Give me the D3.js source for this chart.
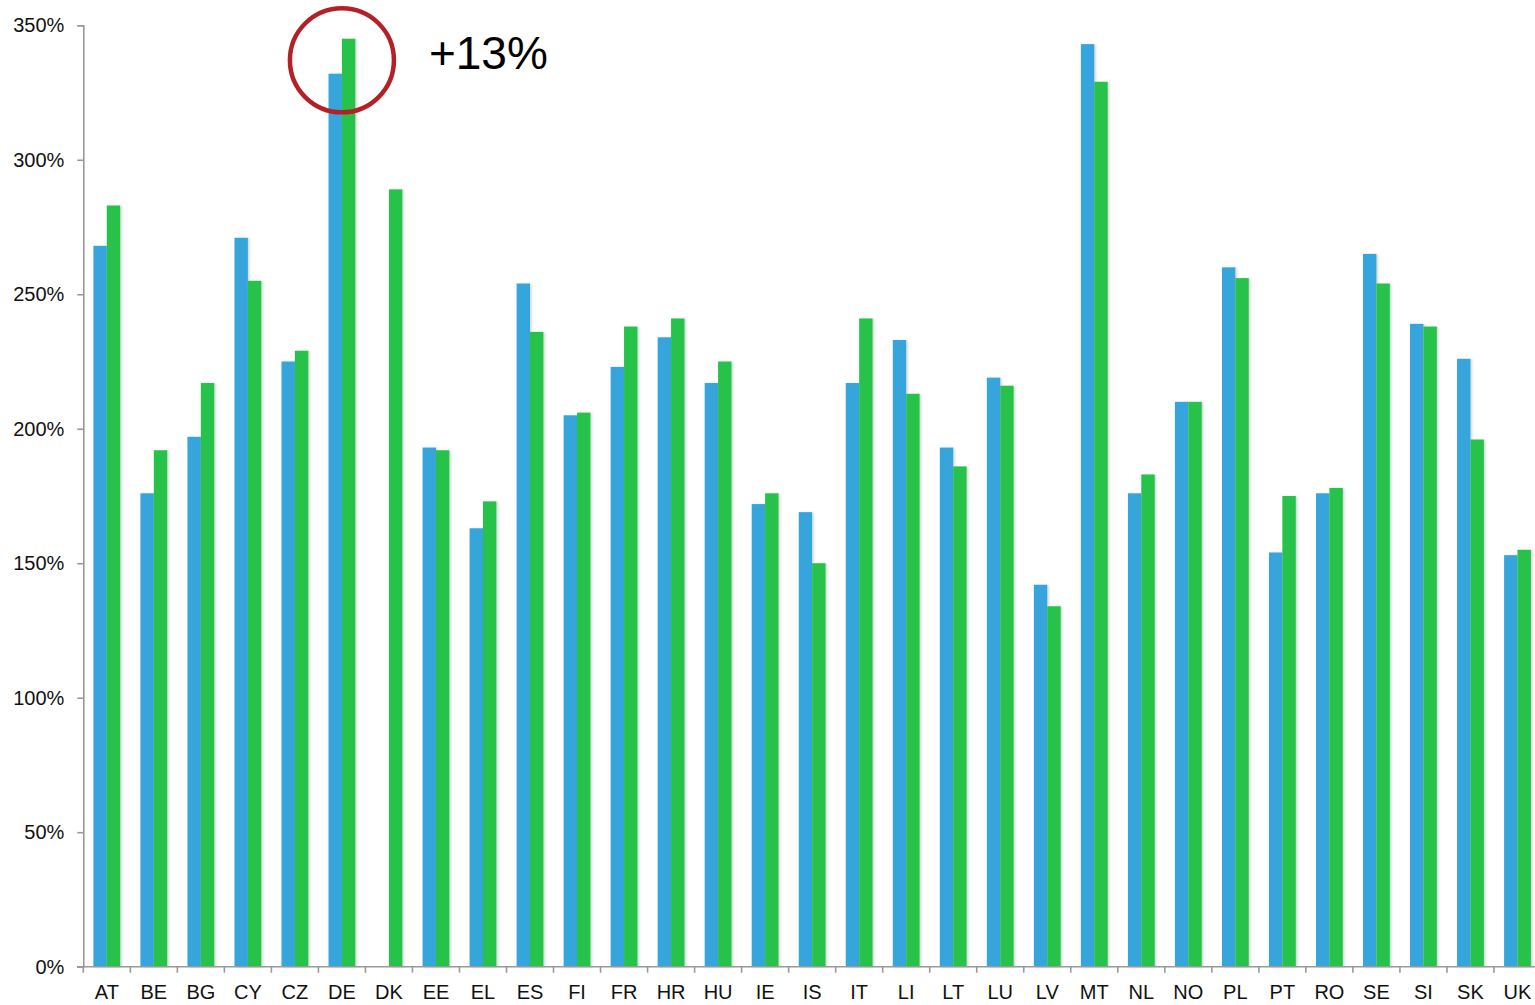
<!DOCTYPE html>
<html>
<head>
<meta charset="utf-8">
<script src="https://cdn.jsdelivr.net/npm/d3@7"></script>
<style>
  body { margin: 0; background: #fff; }
  svg { display: block; overflow: hidden; }
  text { font-family: "Liberation Sans", Arial, sans-serif; }
</style>
</head>
<body>
<div id="chart"></div>
<script>
// data
var countries = ["AT", "BE", "BG", "CY", "CZ", "DE", "DK", "EE", "EL", "ES", "FI", "FR", "HR", "HU", "IE", "IS",
  "IT", "LI", "LT", "LU", "LV", "MT", "NL", "NO", "PL", "PT", "RO", "SE", "SI", "SK", "UK"];
var blueValues = [268, 176, 197, 271, 225, 332, null, 193, 163, 254, 205, 223, 234, 217, 172, 169,
  217, 233, 193, 219, 142, 343, 176, 210, 260, 154, 176, 265, 239, 226, 153];
var greenValues = [283, 192, 217, 255, 229, 345, 289, 192, 173, 236, 206, 238, 241, 225, 176, 150,
  241, 213, 186, 216, 134, 329, 183, 210, 256, 175, 178, 254, 238, 196, 155];
var yTicks = [0, 50, 100, 150, 200, 250, 300, 350];
var series = ["blue", "green"];
var annotation = { country: "DE", value: 337, label: "+13%" };

var svgWidth = 1535;
var svgHeight = 1005;

var margin = { top: 25.3, left: 83.3, bottom: 38.3 };
var plotRight = 1541; // last category runs slightly past the window edge
var height = svgHeight - margin.top - margin.bottom;

var colors = { blue: "#34A5DB", green: "#25C24A" };

var svg = d3.select("#chart")
  .append("svg")
  .attr("width", svgWidth)
  .attr("height", svgHeight);

// soft shadow under the bars
var defs = svg.append("defs");
var shadow = defs.append("filter")
  .attr("id", "shadow")
  .attr("x", "-20%").attr("y", "-5%")
  .attr("width", "150%").attr("height", "110%");
shadow.append("feDropShadow")
  .attr("dx", 1.5).attr("dy", 0.5)
  .attr("stdDeviation", 1.2)
  .attr("flood-color", "#000")
  .attr("flood-opacity", 0.18);

var chartGroup = svg.append("g")
  .attr("transform", `translate(${margin.left}, ${margin.top})`);

// scales
var xBandScale = d3.scaleBand()
  .domain(countries)
  .range([0, plotRight - margin.left]);

var xInnerScale = d3.scaleBand()
  .domain(series)
  .range([xBandScale.bandwidth() * 0.215, xBandScale.bandwidth() * 0.785]);

var yLinearScale = d3.scaleLinear()
  .domain([0, 350])
  .range([height, 0]);

// y axis
var leftAxis = d3.axisLeft(yLinearScale)
  .tickValues(yTicks)
  .tickSize(6)
  .tickPadding(13)
  .tickFormat(d => d + "%");

var yAxis = chartGroup.append("g")
  .call(leftAxis);

yAxis.selectAll("text")
  .attr("font-size", 20)
  .attr("fill", "#111")
  .style("font-family", "'Liberation Sans', Arial, sans-serif");

// bars
var rows = countries.map(function(c, i) {
  return { country: c, blue: blueValues[i], green: greenValues[i] };
});

var groups = chartGroup.selectAll(".country")
  .data(rows)
  .enter()
  .append("g")
  .attr("class", "country")
  .attr("transform", d => `translate(${xBandScale(d.country)}, 0)`);

groups.selectAll("rect")
  .data(d => series.filter(s => d[s] != null).map(s => ({ key: s, value: d[s] })))
  .enter()
  .append("rect")
  .attr("x", d => xInnerScale(d.key))
  .attr("y", d => yLinearScale(d.value))
  .attr("width", xInnerScale.bandwidth())
  .attr("height", d => height - yLinearScale(d.value))
  .attr("fill", d => colors[d.key])
  .attr("filter", "url(#shadow)");

// x axis drawn over the bars
var bottomAxis = d3.axisBottom(xBandScale)
  .tickSize(6)
  .tickPadding(12);

var xAxis = chartGroup.append("g")
  .attr("transform", `translate(0, ${height})`)
  .call(bottomAxis);

// category ticks sit on the band edges, not the centres
xAxis.selectAll(".tick line")
  .attr("x1", -xBandScale.bandwidth() / 2)
  .attr("x2", -xBandScale.bandwidth() / 2);

xAxis.selectAll("text")
  .attr("font-size", 20)
  .attr("fill", "#111")
  .style("font-family", "'Liberation Sans', Arial, sans-serif");

xAxis.select(".domain").attr("d", `M-6,0H${plotRight - margin.left}`);

chartGroup.selectAll(".domain, .tick line")
  .attr("stroke", "#999")
  .attr("stroke-width", 1.6);

// annotation circle around DE
var cx = xBandScale(annotation.country) + xBandScale.bandwidth() / 2;
var cy = yLinearScale(annotation.value);

chartGroup.append("circle")
  .attr("cx", cx)
  .attr("cy", cy)
  .attr("r", 52)
  .attr("fill", "none")
  .attr("stroke", "#B32127")
  .attr("stroke-width", 4.5);

chartGroup.append("text")
  .attr("x", cx + 87)
  .attr("y", cy + 9)
  .attr("font-size", 46)
  .attr("fill", "#000")
  .text(annotation.label);
</script>
</body>
</html>
